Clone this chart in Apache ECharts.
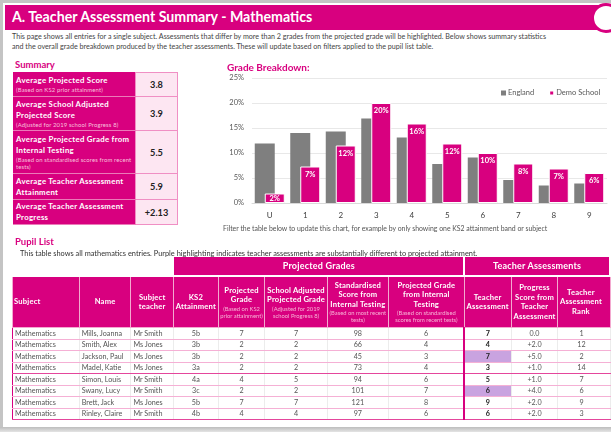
<!DOCTYPE html>
<html>
<head>
<meta charset="utf-8">
<script src="https://cdn.jsdelivr.net/npm/echarts@6/dist/echarts.min.js"></script>
<style>
body { margin:0; width:611px; height:432px; overflow:hidden; background:#fff; font-family:Lato, "Noto Sans", sans-serif; position:relative; }
.abs { position:absolute; }
#frameTop { left:0; top:0; width:611px; height:3px; background:#c4c4c4; }
#frameLeft { left:0; top:0; width:3px; height:428px; background:#c4c4c4; }
#frameBottom { left:0; top:427px; width:611px; height:5px; background:linear-gradient(#bdbdbd,#e4e4e4); }
#banner { left:5px; top:5px; width:600px; height:25px; background:#d8007f; }
#banner span { position:absolute; left:7px; top:3px; color:#fff; font-weight:bold; font-size:14.2px; white-space:nowrap; }
#ring { left:591px; top:3px; width:30px; height:30px; border-radius:50%; background:#fff; border:3px solid #d8007f; box-sizing:border-box; }
#intro { left:12px; top:32px; width:600px; font-size:7.15px; color:#444; line-height:9.5px; white-space:nowrap; }
.head { color:#d8007f; font-weight:bold; font-size:9.5px; }
#summary { left:13px; top:72px; border-collapse:collapse; border:1.5px solid #d8007f; }
#summary td { padding:0 2px; }
#summary td.lab { width:117px; background:#d8007f; color:#fff; font-weight:bold; font-size:7.8px; letter-spacing:0.3px; line-height:11px; border-bottom:1px solid #eb7ab8; vertical-align:middle; }
#summary td.lab small { display:block; font-weight:normal; font-size:5.9px; letter-spacing:0.15px; line-height:7.5px; color:#f8c0dd; }
#summary td.val { width:37px; background:#fde6f2; border:1.5px solid #f08fc4; text-align:center; font-weight:bold; font-size:9.2px; color:#222; }
#chart { left:200px; top:56px; width:411px; height:180px; }
#filterNote { left:223px; top:224px; font-size:6.9px; color:#555; white-space:nowrap; }
#pupilHead { left:15px; top:236px; }
#pupilDesc { left:20px; top:249px; font-size:7.4px; color:#333; white-space:nowrap; }
#pupils { left:12px; top:257px; border-collapse:collapse; table-layout:fixed; font-size:7.2px; color:#555; }
#pupils th { background:#d8007f; color:#fff; font-weight:bold; font-size:7.6px; letter-spacing:0.2px; line-height:9.5px; border:1px solid #f3a9d0; padding:0 1px; }
#pupils th small { display:block; font-weight:normal; font-size:5.8px; letter-spacing:0; line-height:7px; color:#f8b3d7; }
#pupils tr.grp th { height:18px; font-size:9px; border:none; border-right:2px solid #fff; border-bottom:2px solid #fff; }
#pupils tr.grp th.blank { background:#fff; }
#pupils tr.cols th { height:50px; }
#pupils td { height:10.5px; padding:0 2px; border-bottom:1px solid #f5b0d5; border-right:1px solid #ececec; white-space:nowrap; overflow:hidden; text-align:center; }
#pupils td.l { text-align:left; }
#pupils td.ta { font-weight:bold; color:#222; border-left:2px solid #d8007f; }
#pupils td.hl { background:#c9a3e0; }
#pupils tbody { border:1.5px solid #d8007f; }
#pupils tbody tr:nth-child(4n) td { border-bottom:1px solid #e4469c; }
</style>
</head>
<body>
<div class="abs" id="frameTop"></div>
<div class="abs" id="frameLeft"></div>
<div class="abs" id="frameBottom"></div>
<div class="abs" id="banner"><span>A. Teacher Assessment Summary - Mathematics</span></div>
<div class="abs" id="ring"></div>
<div class="abs" id="intro">This page shows all entries for a single subject. Assessments that differ by more than 2 grades from the projected grade will be highlighted. Below shows summary statistics<br>and the overall grade breakdown produced by the teacher assessments. These will update based on filters applied to the pupil list table.</div>
<div class="abs head" style="left:15px;top:59px;">Summary</div>
<table class="abs" id="summary"></table>
<div class="abs" id="chart"></div>
<div class="abs" id="filterNote">Filter the table below to update this chart, for example by only showing one KS2 attainment band or subject</div>
<div class="abs head" id="pupilHead">Pupil List</div>
<div class="abs" id="pupilDesc">This table shows all mathematics entries. Purple highlighting indicates teacher assessments are substantially different to projected attainment.</div>
<table class="abs" id="pupils"></table>
<script>
// summary box
const sumLabels = ['Average Projected Score', 'Average School Adjusted Projected Score', 'Average Projected Grade from Internal Testing', 'Average Teacher Assessment Attainment', 'Average Teacher Assessment Progress'];
const sumNotes = ['(Based on KS2 prior attainment)', '(Adjusted for 2019 school Progress 8)', '(Based on standardised scores from recent tests)', '', ''];
const sumValues = ['3.8', '3.9', '5.5', '5.9', '+2.13'];
const sumHeights = [24, 34, 43, 26, 25];

// chart
const grades = ['U', '1', '2', '3', '4', '5', '6', '7', '8', '9'];
const england = [11.9, 14.0, 14.3, 16.9, 13.1, 7.8, 9.1, 4.6, 3.5, 3.9];
const demoSchool = [1.9, 7.3, 11.5, 20.0, 15.9, 11.9, 10.0, 7.9, 6.9, 6.0];

// pupil list
const subjects = ['Mathematics', 'Mathematics', 'Mathematics', 'Mathematics', 'Mathematics', 'Mathematics', 'Mathematics', 'Mathematics'];
const names = ['Mills, Joanna', 'Smith, Alex', 'Jackson, Paul', 'Madel, Katie', 'Simon, Louis', 'Swany, Lucy', 'Brett, Jack', 'Rinley, Claire'];
const teachers = ['Mr Smith', 'Ms Jones', 'Ms Jones', 'Ms Jones', 'Mr Smith', 'Mr Smith', 'Ms Jones', 'Mr Smith'];
const ks2 = ['5b', '3b', '3b', '3a', '4a', '3c', '5b', '4b'];
const projGrade = [7, 2, 2, 2, 4, 2, 7, 4];
const schoolAdj = [7, 2, 2, 2, 5, 2, 7, 4];
const stdScore = [98, 66, 45, 73, 94, 101, 121, 97];
const projInternal = [6, 4, 3, 4, 6, 7, 8, 6];
const teacherAssess = [7, 4, 7, 3, 5, 6, 9, 6];
const progress = ['0.0', '+2.0', '+5.0', '+1.0', '+1.0', '+4.0', '+2.0', '+2.0'];
const taRank = [1, 12, 2, 14, 7, 6, 9, 3];
const highlighted = [false, false, true, false, false, true, false, false];

let sh = '';
for (let i = 0; i < sumLabels.length; i++) {
    sh += '<tr style="height:' + sumHeights[i] + 'px"><td class="lab">' + sumLabels[i] +
        (sumNotes[i] ? '<small>' + sumNotes[i] + '</small>' : '') +
        '</td><td class="val">' + sumValues[i] + '</td></tr>';
}
document.getElementById('summary').innerHTML = sh;

const colW = [68, 52, 43, 45, 47, 64, 62, 78, 47, 47, 52];
let th = '<colgroup>' + colW.map(w => '<col style="width:' + w + 'px">').join('') + '</colgroup>';
th += '<thead><tr class="grp"><th class="blank" colspan="3"></th><th colspan="5">Projected Grades</th><th colspan="3">Teacher Assessments</th></tr>';
th += '<tr class="cols"><th style="text-align:left">Subject</th><th>Name</th><th>Subject teacher</th><th>KS2 Attainment</th>' +
    '<th>Projected Grade<small>(Based on KS2 prior attainment)</small></th>' +
    '<th>School Adjusted Projected Grade<small>(Adjusted for 2019 school Progress 8)</small></th>' +
    '<th>Standardised Score from Internal Testing<small>(Based on most recent tests)</small></th>' +
    '<th>Projected Grade from Internal Testing<small>(Based on standardised scores from recent tests)</small></th>' +
    '<th>Teacher Assessment</th><th>Progress Score from Teacher Assessment</th><th style="padding-right:7px">Teacher Assessment Rank</th></tr></thead><tbody>';
for (let i = 0; i < names.length; i++) {
    th += '<tr><td class="l">' + subjects[i] + '</td><td class="l">' + names[i] + '</td><td class="l">' + teachers[i] + '</td>' +
        '<td>' + ks2[i] + '</td><td>' + projGrade[i] + '</td><td>' + schoolAdj[i] + '</td><td>' + stdScore[i] + '</td><td>' + projInternal[i] + '</td>' +
        '<td class="ta' + (highlighted[i] ? ' hl' : '') + '">' + teacherAssess[i] + '</td><td>' + progress[i] + '</td><td style="padding-right:7px">' + taRank[i] + '</td></tr>';
}
th += '</tbody>';
document.getElementById('pupils').innerHTML = th;

let myChart = echarts.init(document.getElementById('chart'));
let option = {
    animation: false,
    title: {
        text: 'Grade Breakdown:',
        left: 22,
        top: 2,
        textStyle: { color: '#d8007f', fontSize: 10, fontWeight: 'bold', fontFamily: 'Lato' }
    },
    legend: {
        data: ['England', 'Demo School'],
        left: 296,
        top: 28,
        itemWidth: 5,
        itemHeight: 5,
        itemGap: 14,
        icon: 'rect',
        textStyle: { color: '#595959', fontSize: 7.5, fontFamily: 'Lato', padding: [0, 0, 0, -3] }
    },
    grid: { left: 52, right: 4, top: 22, bottom: 33 },
    xAxis: {
        type: 'category',
        data: grades,
        axisTick: { show: false },
        axisLine: { lineStyle: { color: '#d9d9d9' } },
        axisLabel: { color: '#404040', fontSize: 8, fontFamily: 'Lato', margin: 8 }
    },
    yAxis: {
        type: 'value',
        min: 0,
        max: 25,
        interval: 5,
        axisLabel: { formatter: '{value}%', color: '#595959', fontSize: 7.5, fontFamily: 'Lato', margin: 8 },
        splitLine: { lineStyle: { color: '#e8e8e8' } }
    },
    series: [
        {
            name: 'England',
            type: 'bar',
            data: england,
            barWidth: 20,
            barGap: '-50%',
            itemStyle: { color: '#7f7f7f' }
        },
        {
            name: 'Demo School',
            type: 'bar',
            // short bars get their label centred so it stays inside
            data: demoSchool.map(v => v < 3 ? { value: v, label: { position: 'inside' } } : v),
            barWidth: 20,
            itemStyle: { color: '#d8007f', borderColor: '#fff', borderWidth: 1 },
            label: {
                show: true,
                position: 'insideTop',
                distance: 4,
                formatter: (p) => Math.round(p.value) + '%',
                color: '#fff',
                fontSize: 7.5,
                fontWeight: 'bold',
                fontFamily: 'Lato'
            }
        }
    ]
};
myChart.setOption(option);
</script>
</body>
</html>
